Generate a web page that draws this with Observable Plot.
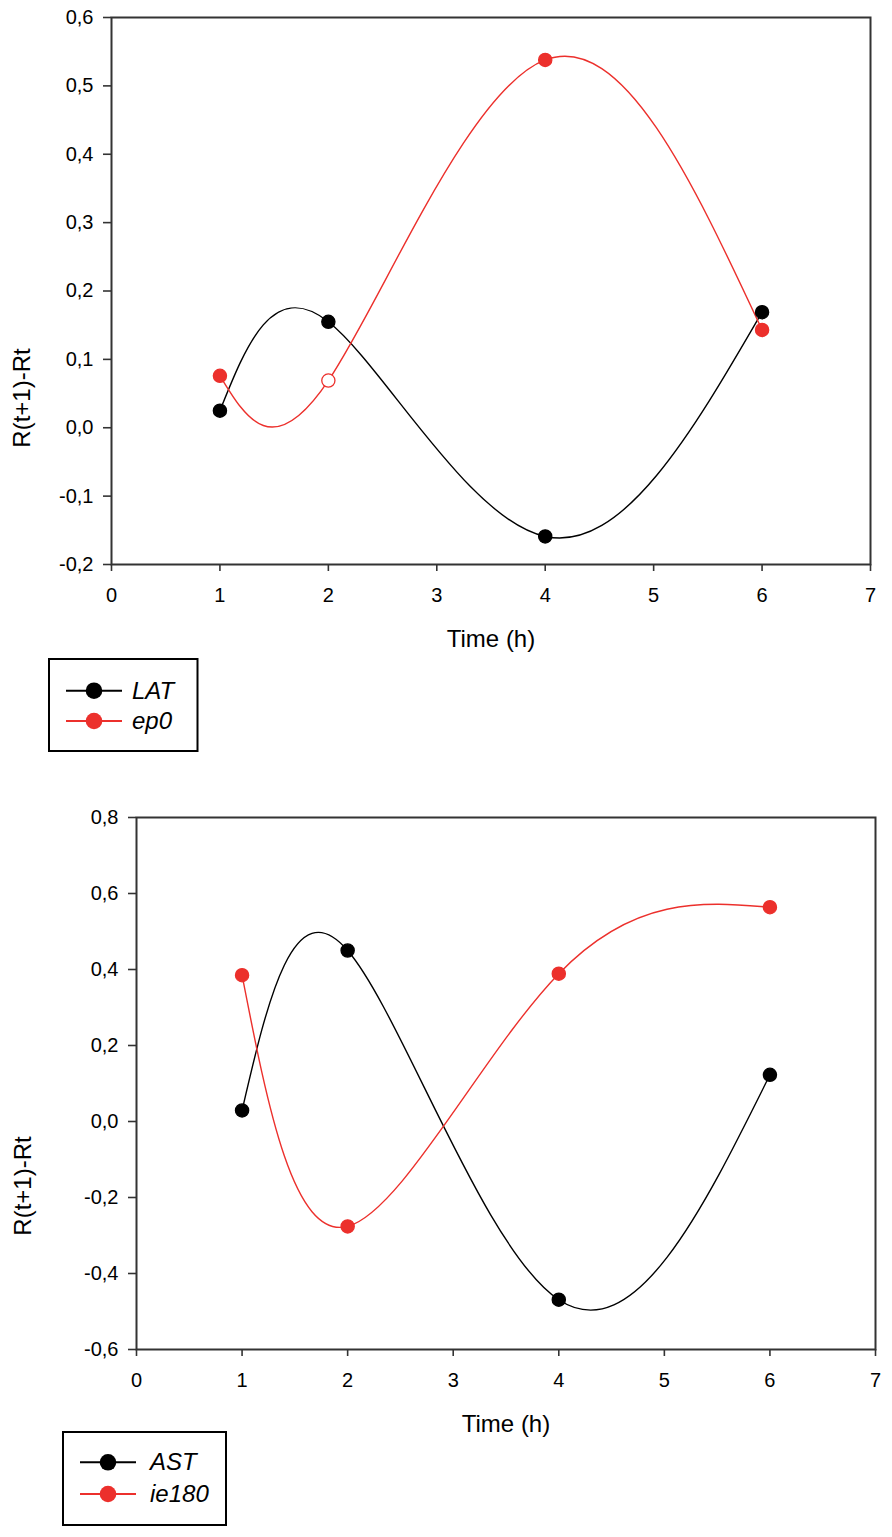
<!DOCTYPE html>
<html>
<head>
<meta charset="utf-8">
<script src="https://cdn.jsdelivr.net/npm/d3@7"></script>
<script src="https://cdn.jsdelivr.net/npm/@observablehq/plot@0.6"></script>
<style>
  html, body { margin: 0; padding: 0; background: #fff; }
  #page { position: relative; width: 892px; height: 1537px; overflow: hidden; background: #fff; font-family: "Liberation Sans", Arial, sans-serif; }
  .chart { position: absolute; left: 0; }
  #overlay { position: absolute; left: 0; top: 0; pointer-events: none; }
</style>
</head>
<body>
<div id="page">
  <div id="chart1" class="chart" style="top:0px"></div>
  <div id="chart2" class="chart" style="top:780px"></div>
  <svg id="overlay" width="892" height="1537" font-family="Liberation Sans, Arial, sans-serif">
    <text x="21" y="398" font-size="24" text-anchor="middle" dominant-baseline="central" transform="rotate(-90 21 398)">R(t+1)-Rt</text>
    <text x="491" y="647" font-size="24" text-anchor="middle">Time (h)</text>
    <text x="22" y="1186" font-size="24" text-anchor="middle" dominant-baseline="central" transform="rotate(-90 22 1186)">R(t+1)-Rt</text>
    <text x="506" y="1432" font-size="24" text-anchor="middle">Time (h)</text>
    <g id="legend1"></g>
    <g id="legend2"></g>
  </svg>
</div>
<script>
// ---- data ----
const hours = [1, 2, 4, 6];
const latValues = [0.025, 0.155, -0.159, 0.169];
const ep0Values = [0.076, 0.069, 0.538, 0.143];
const ep0OpenMarker = [false, true, false, false];
const astValues = [0.029, 0.450, -0.469, 0.123];
const ie180Values = [0.385, -0.276, 0.389, 0.564];
const xTicks = [0, 1, 2, 3, 4, 5, 6, 7];
const yTicksTop = [-0.2, -0.1, 0.0, 0.1, 0.2, 0.3, 0.4, 0.5, 0.6];
const yTicksBottom = [-0.6, -0.4, -0.2, 0.0, 0.2, 0.4, 0.6, 0.8];
const seriesNamesTop = ["LAT", "ep0"];
const seriesNamesBottom = ["AST", "ie180"];

const BLACK = "#000000";
const RED = "#ec302c";
const fmt = v => v.toFixed(1).replace(".", ",");

function rows(values, open) {
  return hours.map((h, i) => ({hour: h, value: values[i], open: open ? open[i] : false}));
}

function makeChart({series, yDomain, yTicks, marginLeft, marginRight, marginTop, marginBottom, height}) {
  const marks = [
    Plot.frame({stroke: "#333", strokeWidth: 2}),
    Plot.axisX({ticks: xTicks, tickSize: 7, tickPadding: 16, tickFormat: d => String(d), label: null,
      stroke: "#333", strokeWidth: 1.6, fontSize: 20, fill: "#000"}),
    Plot.axisY({ticks: yTicks, tickSize: 8, tickPadding: 10, tickFormat: fmt, label: null,
      stroke: "#333", strokeWidth: 1.6, fontSize: 20, fill: "#000"})
  ];
  for (const s of series) {
    marks.push(Plot.line(s.data, {x: "hour", y: "value", stroke: s.color, strokeWidth: 1.4, curve: "natural"}));
  }
  for (const s of series) {
    marks.push(Plot.dot(s.data, {x: "hour", y: "value", r: 6.6, stroke: s.color, strokeWidth: 1.3,
      fill: d => d.open ? "#ffffff" : s.color}));
  }
  return Plot.plot({
    width: 892, height, marginLeft, marginRight, marginTop, marginBottom,
    x: {domain: [0, 7]},
    y: {domain: yDomain},
    style: {fontFamily: '"Liberation Sans", Arial, sans-serif', fontSize: "20px", color: "#000", background: "transparent", overflow: "visible"},
    marks
  });
}

document.getElementById("chart1").appendChild(makeChart({
  series: [
    {data: rows(latValues), color: BLACK},
    {data: rows(ep0Values, ep0OpenMarker), color: RED}
  ],
  yDomain: [-0.2, 0.6], yTicks: yTicksTop,
  marginLeft: 111, marginRight: 22, marginTop: 17, marginBottom: 116, height: 680
}));

document.getElementById("chart2").appendChild(makeChart({
  series: [
    {data: rows(astValues), color: BLACK},
    {data: rows(ie180Values), color: RED}
  ],
  yDomain: [-0.6, 0.8], yTicks: yTicksBottom,
  marginLeft: 136, marginRight: 17, marginTop: 37, marginBottom: 111, height: 680
}));

// ---- legends ----
const NS = "http://www.w3.org/2000/svg";
function el(tag, attrs, parent) {
  const e = document.createElementNS(NS, tag);
  for (const k in attrs) e.setAttribute(k, attrs[k]);
  parent.appendChild(e);
  return e;
}
function legend(g, box, names, colors, rowY, lineX0, lineX1, textX) {
  el("rect", {x: box[0], y: box[1], width: box[2], height: box[3], fill: "#fff", stroke: "#000", "stroke-width": 2}, g);
  names.forEach((name, i) => {
    const y = rowY[i];
    el("line", {x1: lineX0, x2: lineX1, y1: y, y2: y, stroke: colors[i], "stroke-width": 2}, g);
    el("circle", {cx: (lineX0 + lineX1) / 2, cy: y, r: 8.3, fill: colors[i]}, g);
    const t = el("text", {x: textX, y: y + 8, "font-size": 24, "font-style": "italic"}, g);
    t.textContent = name;
  });
}
legend(document.getElementById("legend1"), [49, 659, 148.5, 92], seriesNamesTop, [BLACK, RED], [690.7, 721], 66, 122, 132);
legend(document.getElementById("legend2"), [63, 1432, 163, 93], seriesNamesBottom, [BLACK, RED], [1462.3, 1494], 80, 136, 150);
</script>
</body>
</html>
